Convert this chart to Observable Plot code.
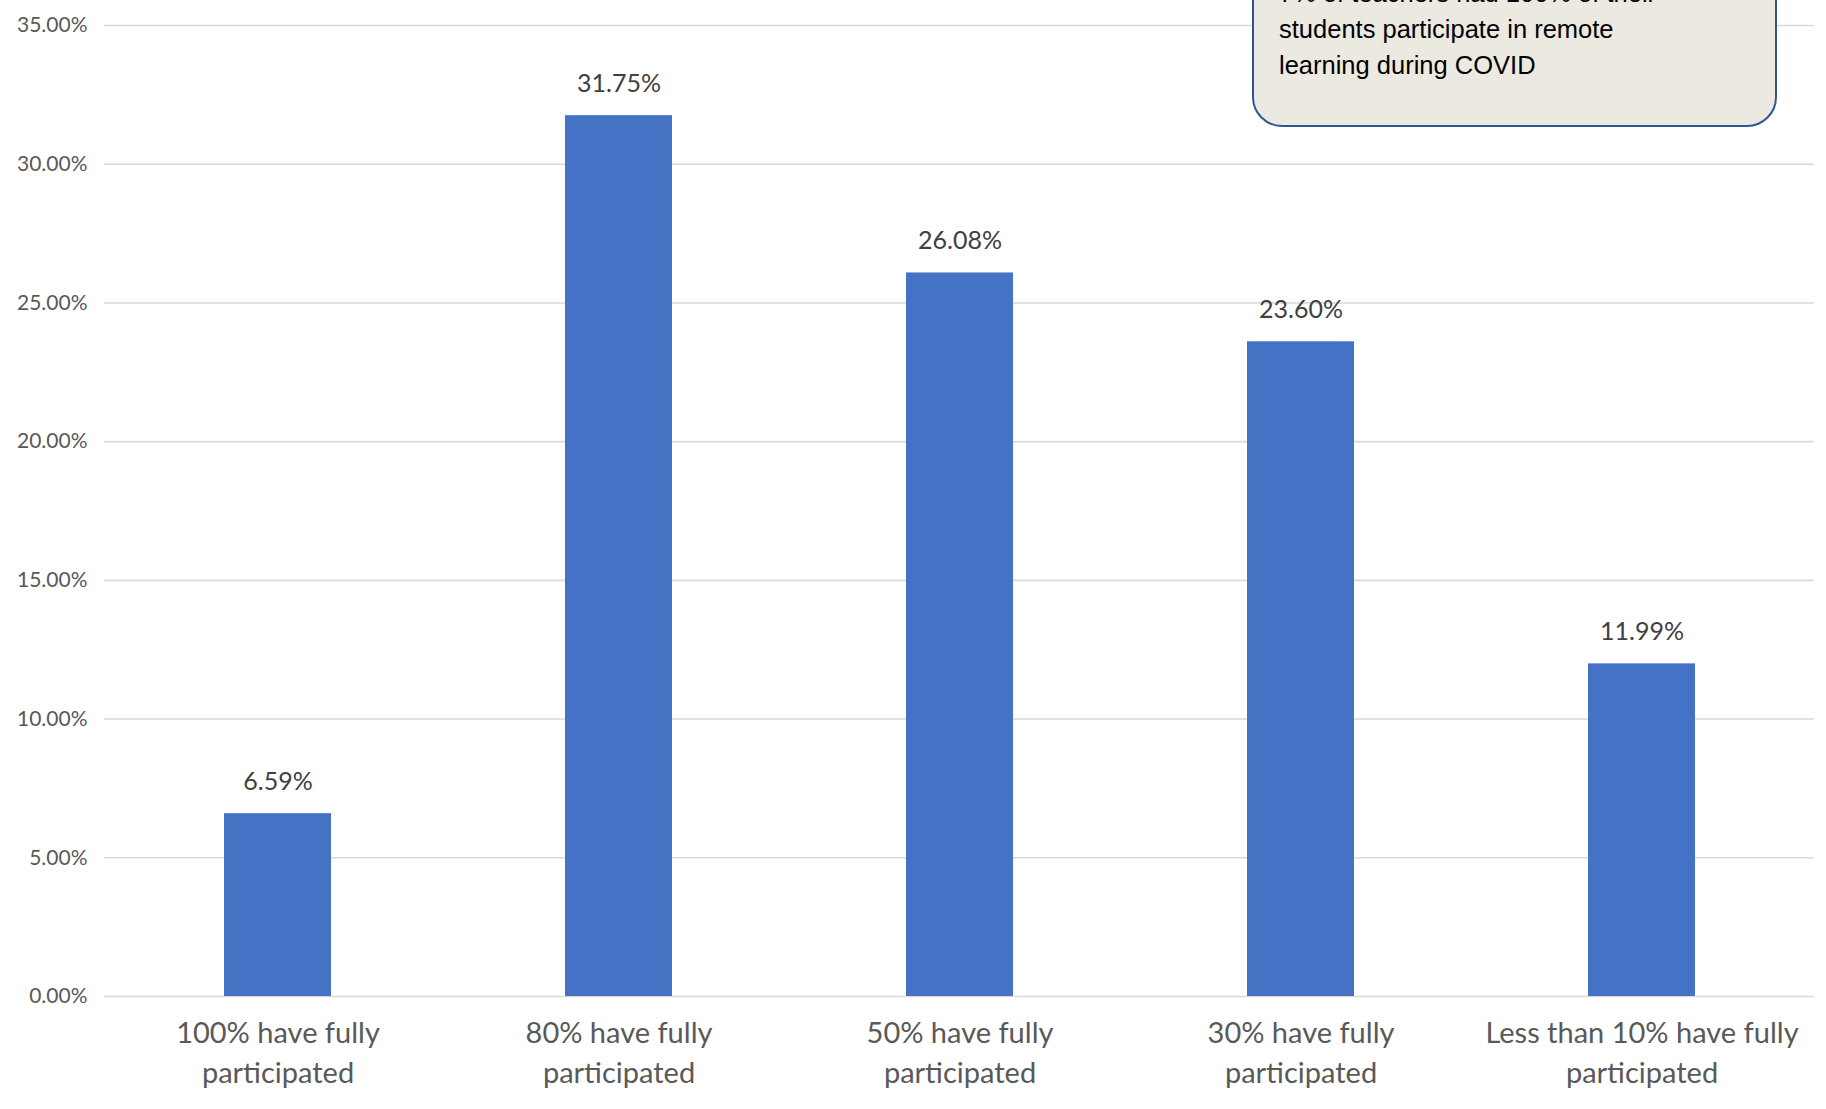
<!DOCTYPE html>
<html>
<head>
<meta charset="utf-8">
<script src="https://cdn.jsdelivr.net/npm/d3@7"></script>
<script src="https://cdn.jsdelivr.net/npm/@observablehq/plot@0.6"></script>
<style>
  html, body { margin: 0; padding: 0; background: #ffffff; }
  #wrap { position: relative; width: 1826px; height: 1109px; overflow: hidden; background: #fff; }
  #note {
    position: absolute; left: 1252px; top: -70px; width: 525px; height: 197px;
    background: #ECEAE0; border: 2px solid #2F5496; border-radius: 30px; box-sizing: border-box;
  }
  #noteText {
    position: absolute; left: 1279px; top: -25px; width: 480px;
    font-family: "Liberation Sans", Arial, sans-serif; font-size: 25.5px; line-height: 36px; color: #000;
  }
</style>
</head>
<body>
<div id="wrap"><div id="chart"></div><div id="note"></div><div id="noteText"></div></div>
<script>
const categories = [
  "100% have fully participated",
  "80% have fully participated",
  "50% have fully participated",
  "30% have fully participated",
  "Less than 10% have fully participated"
];
const tickLabels = [
  "100% have fully\nparticipated",
  "80% have fully\nparticipated",
  "50% have fully\nparticipated",
  "30% have fully\nparticipated",
  "Less than 10% have fully\nparticipated"
];
const values = [6.59, 31.75, 26.08, 23.60, 11.99];
const yTicks = [0, 5, 10, 15, 20, 25, 30, 35];
const noteLines = [
  "7% of teachers had 100% of their",
  "students participate in remote",
  "learning during COVID"
];

document.getElementById("noteText").innerHTML = noteLines.join("<br>");

const data = categories.map((c, i) => ({category: c, value: values[i]}));

const chart = Plot.plot({
  width: 1826,
  height: 1109,
  marginLeft: 104,
  marginRight: 12,
  marginTop: 25,
  marginBottom: 113,
  style: {fontFamily: "Lato, 'Open Sans', sans-serif", background: "white"},
  x: {domain: categories, paddingInner: 0.687, paddingOuter: 0.35, label: null},
  y: {domain: [0, 35], label: null},
  marks: [
    Plot.ruleY(yTicks, {stroke: "#D9D9D9", strokeWidth: 1.6}),
    Plot.barY(data, {x: "category", y: "value", fill: "#4472C4"}),
    Plot.text(data, {x: "category", y: "value", text: d => d.value.toFixed(2) + "%", dy: -32, fontSize: 25, fill: "#404040"}),
    Plot.axisY({ticks: yTicks, tickFormat: d => d.toFixed(2) + "%", tickSize: 0, tickPadding: 17, fontSize: 21, fill: "#595959", label: null}),
    Plot.axisX({tickSize: 0, tickPadding: 17, tickFormat: d => tickLabels[categories.indexOf(d)], fontSize: 29, lineHeight: 1.41, fill: "#595959", label: null})
  ]
});
document.getElementById("chart").appendChild(chart);
</script>
</body>
</html>
